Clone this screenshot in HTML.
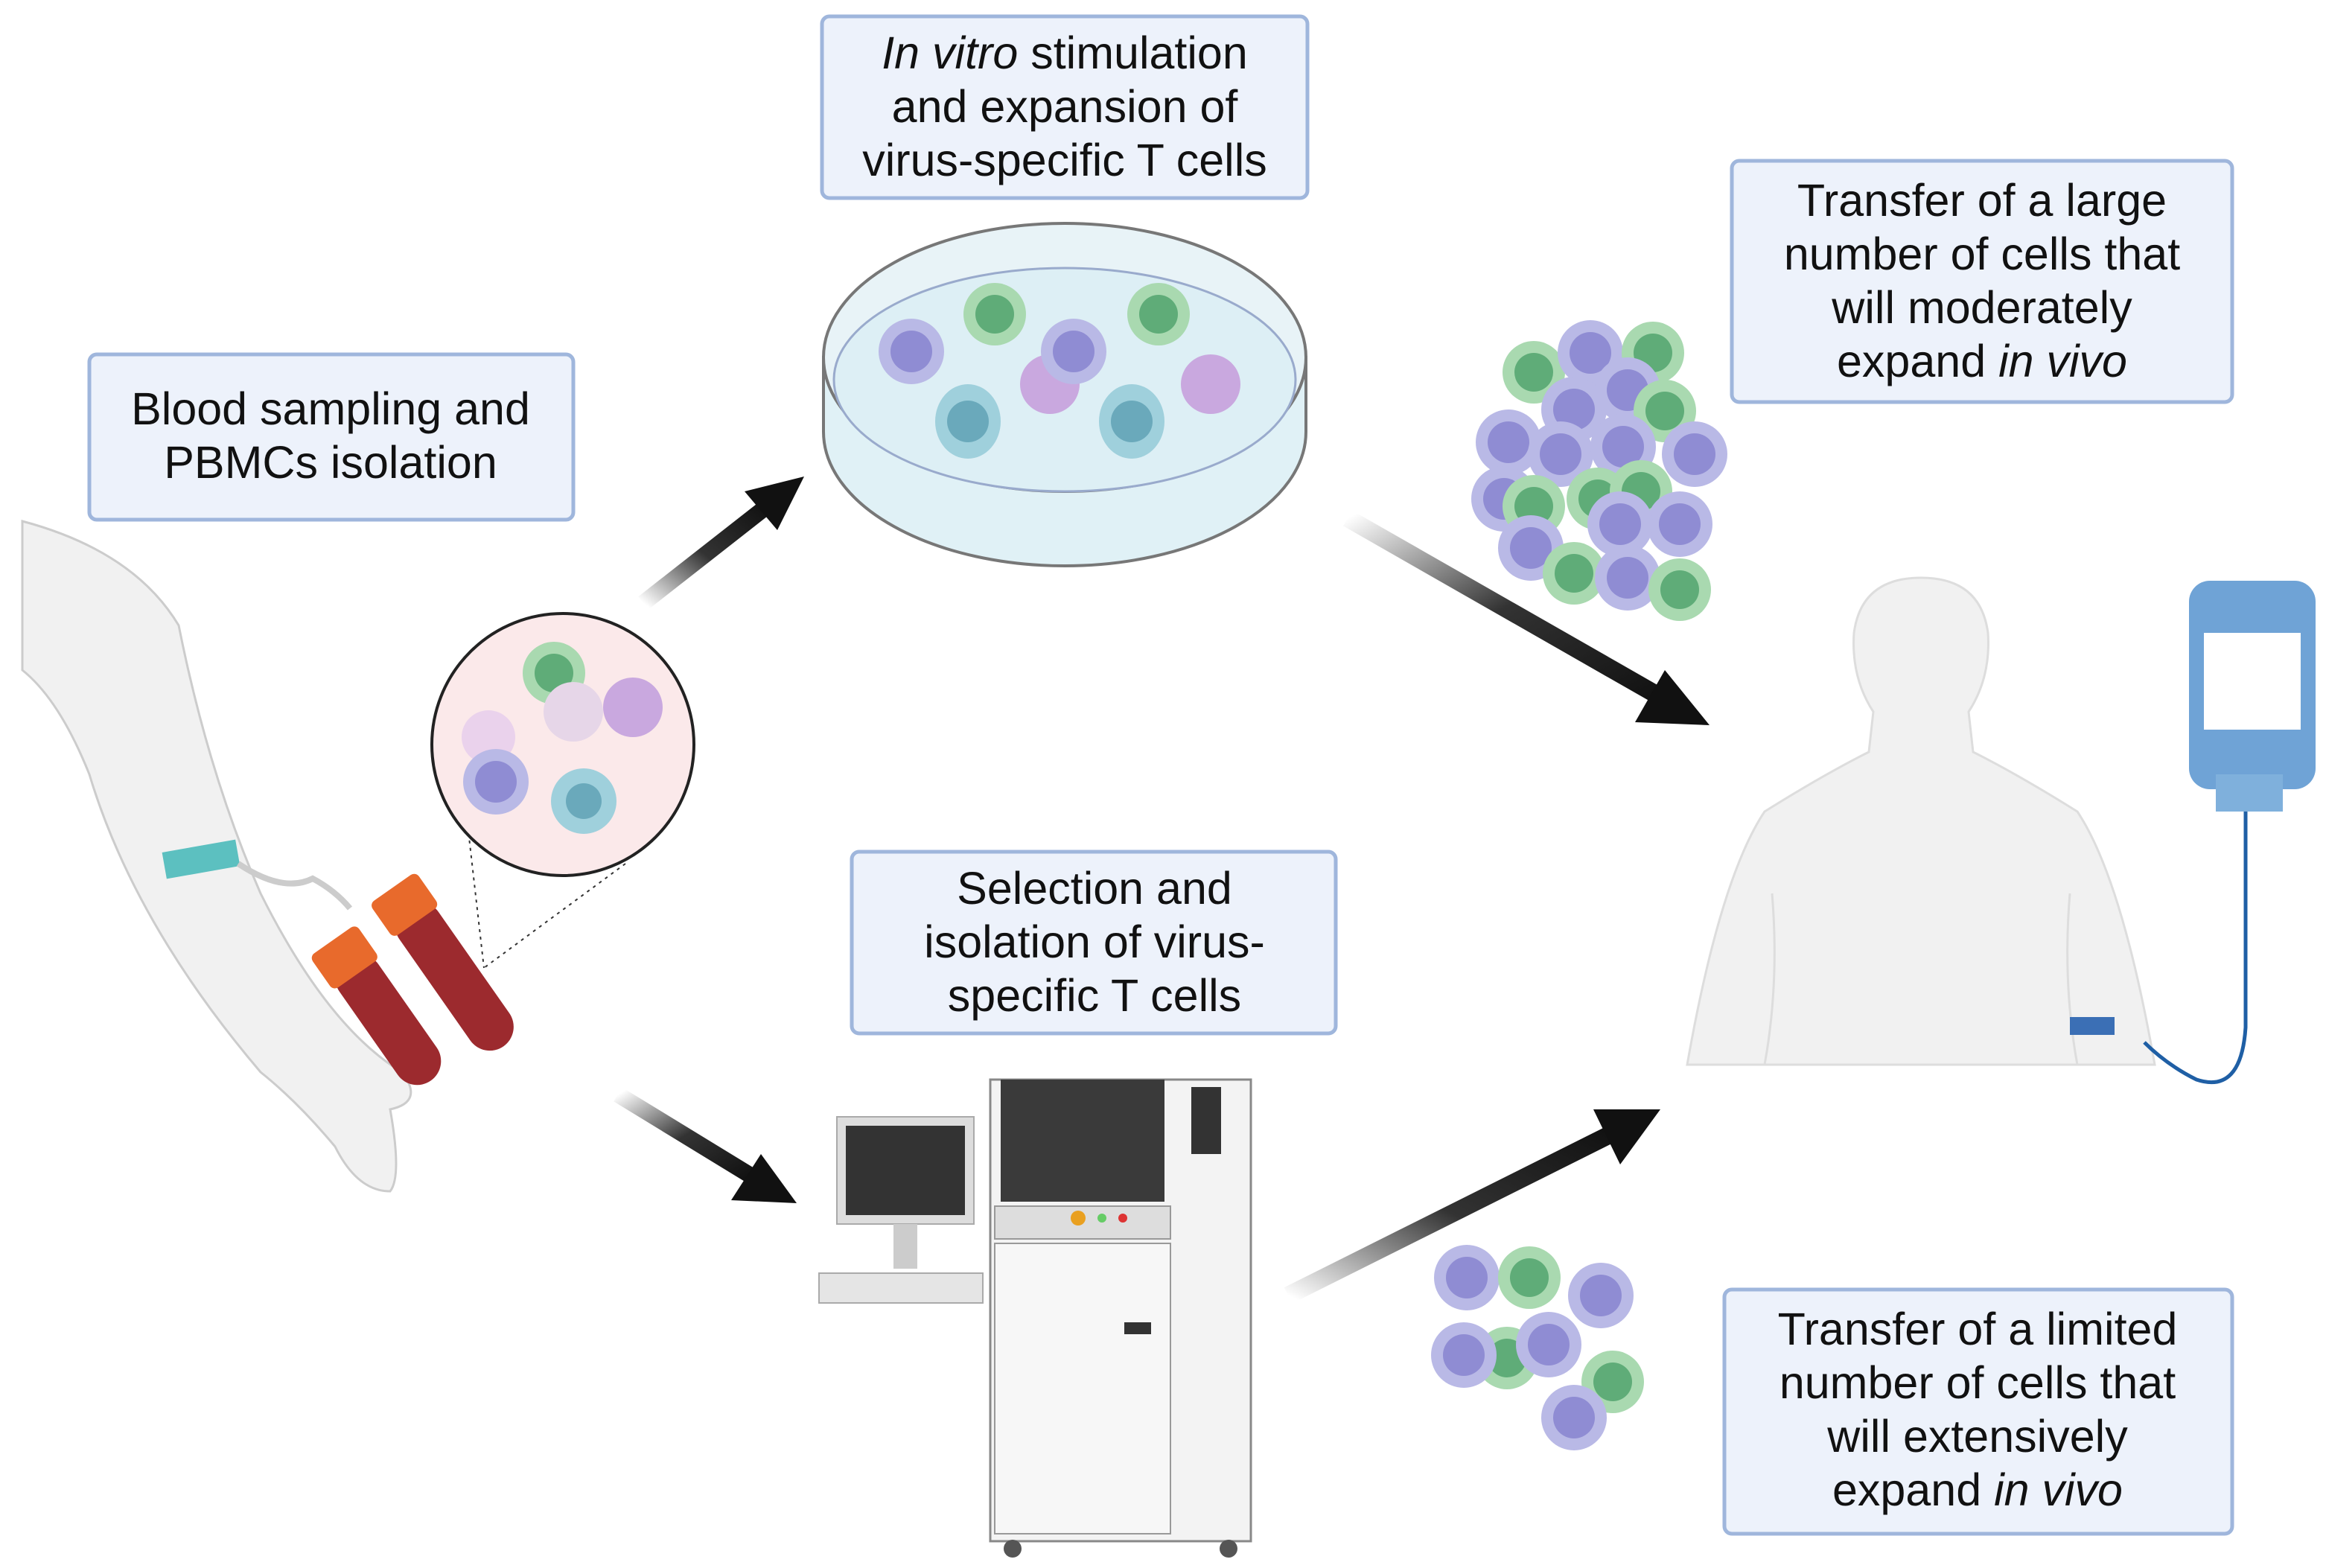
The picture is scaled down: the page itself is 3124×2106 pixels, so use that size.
<!DOCTYPE html>
<html><head><meta charset="utf-8"><style>
html,body{margin:0;padding:0;background:#fff;}
svg{display:block;}
text{font-family:"Liberation Sans",sans-serif;font-size:30.5px;fill:#111;}
</style></head><body>
<svg width="3124" height="2106" viewBox="0 0 1562 1053" xmlns="http://www.w3.org/2000/svg">
<defs>
<linearGradient id="ag1" x1="0" y1="1" x2="1" y2="0"><stop offset="0" stop-color="#fff"/><stop offset="0.5" stop-color="#333"/><stop offset="1" stop-color="#111"/></linearGradient>
<linearGradient id="ag2" x1="0" y1="0" x2="1" y2="1"><stop offset="0" stop-color="#fff"/><stop offset="0.5" stop-color="#333"/><stop offset="1" stop-color="#111"/></linearGradient>
<g id="pc"><circle r="22" fill="#b9b9e6"/><circle r="14" fill="#8f8cd3"/></g>
<g id="gc"><circle r="21" fill="#a9d9b0"/><circle r="13" fill="#5fac78"/></g>
</defs>
<!-- boxes -->
<g fill="#edf2fb" stroke="#9fb6dc" stroke-width="2.5">
<rect x="60" y="238" width="325" height="111" rx="5"/>
<rect x="552" y="11" width="326" height="122" rx="5"/>
<rect x="1163" y="108" width="336" height="162" rx="5"/>
<rect x="572" y="572" width="325" height="122" rx="5"/>
<rect x="1158" y="866" width="341" height="164" rx="5"/>
</g>
<g text-anchor="middle">
<text x="222" y="285">Blood sampling and</text><text x="222" y="321">PBMCs isolation</text>
<text x="715" y="46"><tspan font-style="italic">In vitro</tspan> stimulation</text><text x="715" y="82">and expansion of</text><text x="715" y="118">virus-specific T cells</text>
<text x="1331" y="145">Transfer of a large</text><text x="1331" y="181">number of cells that</text><text x="1331" y="217">will moderately</text><text x="1331" y="253">expand <tspan font-style="italic">in vivo</tspan></text>
<text x="735" y="607">Selection and</text><text x="735" y="643">isolation of virus-</text><text x="735" y="679">specific T cells</text>
<text x="1328" y="903">Transfer of a limited</text><text x="1328" y="939">number of cells that</text><text x="1328" y="975">will extensively</text><text x="1328" y="1011">expand <tspan font-style="italic">in vivo</tspan></text>
</g>
<!-- arrows -->
<line x1="432" y1="405" x2="515" y2="340" stroke="url(#ag1)" stroke-width="11"/>
<polygon points="540,320 500,330 522,356" fill="#111"/>
<line x1="905" y1="348" x2="1115" y2="468" stroke="url(#ag2)" stroke-width="12"/>
<polygon points="1148,487 1098,485 1118,450" fill="#111"/>
<line x1="415" y1="735" x2="505" y2="790" stroke="url(#ag2)" stroke-width="11"/>
<polygon points="535,808 491,806 511,775" fill="#111"/>
<line x1="865" y1="870" x2="1085" y2="760" stroke="url(#ag1)" stroke-width="12"/>
<polygon points="1115,745 1070,745 1088,782" fill="#111"/>
<!-- arm -->
<path d="M15,350 Q90,370 120,420 Q140,520 175,600 Q220,690 270,720 Q285,740 262,745 Q270,790 262,800 Q240,800 225,770 Q200,740 175,720 Q90,620 60,520 Q40,470 15,450 Z" fill="#f1f1f1" stroke="#ccc" stroke-width="1.5"/>
<rect x="110" y="568" width="50" height="18" fill="#5cc0c0" transform="rotate(-10 135 577)"/>
<path d="M160,580 Q190,600 210,590 Q225,598 235,610" stroke="#ccc" stroke-width="4" fill="none"/>
<!-- tubes -->
<g transform="rotate(-35 300 650)"><rect x="285" y="600" width="32" height="115" rx="16" fill="#9c2a2e"/><rect x="282" y="585" width="38" height="28" rx="4" fill="#e86a2c"/></g>
<g transform="rotate(-35 250 680)"><rect x="240" y="640" width="32" height="100" rx="16" fill="#9c2a2e"/><rect x="237" y="625" width="38" height="28" rx="4" fill="#e86a2c"/></g>
<line x1="305" y1="475" x2="325" y2="650" stroke="#333" stroke-dasharray="2,3"/>
<line x1="420" y1="580" x2="325" y2="650" stroke="#333" stroke-dasharray="2,3"/>
<!-- magnifier -->
<circle cx="378" cy="500" r="88" fill="#fbe9ea" stroke="#222" stroke-width="2"/>
<use href="#gc" x="372" y="452"/><circle cx="385" cy="478" r="20" fill="#e6d6e8"/><circle cx="425" cy="475" r="20" fill="#c9a8df"/><circle cx="328" cy="495" r="18" fill="#ead2ec"/><use href="#pc" x="333" y="525"/><circle cx="392" cy="538" r="22" fill="#9fd0dc"/><circle cx="392" cy="538" r="12" fill="#6aa9bb"/>
<!-- petri dish -->
<path d="M553,240 L553,290 A162,90 0 0 0 877,290 L877,240 Z" fill="#e0f1f6" stroke="#777" stroke-width="2"/>
<ellipse cx="715" cy="240" rx="162" ry="90" fill="#e8f3f7" stroke="#777" stroke-width="2"/>
<ellipse cx="715" cy="255" rx="155" ry="75" fill="#ddeff5" stroke="#9ac" stroke-width="1.5"/>
<use href="#pc" x="612" y="236"/><use href="#gc" x="668" y="211"/><use href="#gc" x="778" y="211"/>
<circle cx="705" cy="258" r="20" fill="#c9a8df"/><use href="#pc" x="721" y="236"/><circle cx="813" cy="258" r="20" fill="#c9a8df"/>
<g fill="#9fd0dc"><ellipse cx="650" cy="283" rx="22" ry="25"/><ellipse cx="760" cy="283" rx="22" ry="25"/></g>
<g fill="#6aa9bb"><circle cx="650" cy="283" r="14"/><circle cx="760" cy="283" r="14"/></g>
<!-- cells cluster top -->
<g>
<use href="#gc" x="1030" y="250"/><use href="#pc" x="1068" y="237"/><use href="#gc" x="1110" y="237"/><use href="#pc" x="1057" y="275"/><use href="#pc" x="1093" y="262"/><use href="#gc" x="1118" y="276"/><use href="#pc" x="1013" y="297"/><use href="#pc" x="1048" y="305"/><use href="#pc" x="1138" y="305"/><use href="#pc" x="1090" y="300"/><use href="#gc" x="1073" y="335"/><use href="#gc" x="1102" y="330"/><use href="#pc" x="1010" y="335"/><use href="#gc" x="1030" y="340"/><use href="#pc" x="1128" y="352"/><use href="#pc" x="1088" y="352"/><use href="#pc" x="1028" y="368"/><use href="#gc" x="1057" y="385"/><use href="#pc" x="1093" y="388"/><use href="#gc" x="1128" y="396"/>
</g>
<!-- cells cluster bottom -->
<use href="#pc" x="985" y="858"/><use href="#gc" x="1027" y="858"/><use href="#pc" x="1075" y="870"/><use href="#gc" x="1012" y="912"/><use href="#pc" x="983" y="910"/><use href="#pc" x="1040" y="903"/><use href="#gc" x="1083" y="928"/><use href="#pc" x="1057" y="952"/>
<!-- human -->
<path d="M1133,715 Q1155,590 1185,545 Q1225,520 1255,505 L1258,478 Q1243,455 1245,425 Q1250,388 1290,388 Q1330,388 1335,425 Q1337,455 1322,478 L1325,505 Q1355,520 1395,545 Q1425,590 1447,715 Z" fill="#f1f1f1" stroke="#ddd" stroke-width="1.5"/>
<path d="M1190,600 Q1195,660 1185,715 M1390,600 Q1385,660 1395,715" stroke="#ddd" stroke-width="1.5" fill="none"/>
<!-- IV bag -->
<rect x="1470" y="390" width="85" height="140" rx="14" fill="#6fa3d6"/>
<rect x="1480" y="425" width="65" height="65" fill="#fff"/>
<rect x="1488" y="520" width="45" height="25" fill="#7fb0dc"/>
<path d="M1508,545 L1508,690 Q1505,735 1475,725 Q1455,715 1440,700" stroke="#1f5fa5" stroke-width="2.5" fill="none"/>
<rect x="1390" y="683" width="30" height="12" fill="#3b6fb5"/>
<!-- monitor -->
<rect x="562" y="750" width="92" height="72" fill="#ddd" stroke="#aaa"/><rect x="568" y="756" width="80" height="60" fill="#333"/>
<rect x="600" y="822" width="16" height="30" fill="#ccc"/>
<rect x="550" y="855" width="110" height="20" fill="#e5e5e5" stroke="#aaa"/>
<!-- machine -->
<rect x="665" y="725" width="175" height="310" fill="#f3f3f3" stroke="#888" stroke-width="1.5"/>
<rect x="672" y="725" width="110" height="82" fill="#3a3a3a"/>
<rect x="800" y="730" width="20" height="45" fill="#333"/>
<rect x="668" y="810" width="118" height="22" fill="#ddd" stroke="#999"/>
<circle cx="724" cy="818" r="5" fill="#e9a020"/><circle cx="740" cy="818" r="3" fill="#6c6"/><circle cx="754" cy="818" r="3" fill="#d33"/>
<rect x="668" y="835" width="118" height="195" fill="#f7f7f7" stroke="#999"/>
<rect x="755" y="888" width="18" height="8" fill="#333"/>
<circle cx="680" cy="1040" r="6" fill="#555"/><circle cx="825" cy="1040" r="6" fill="#555"/>
</svg>
</body></html>
